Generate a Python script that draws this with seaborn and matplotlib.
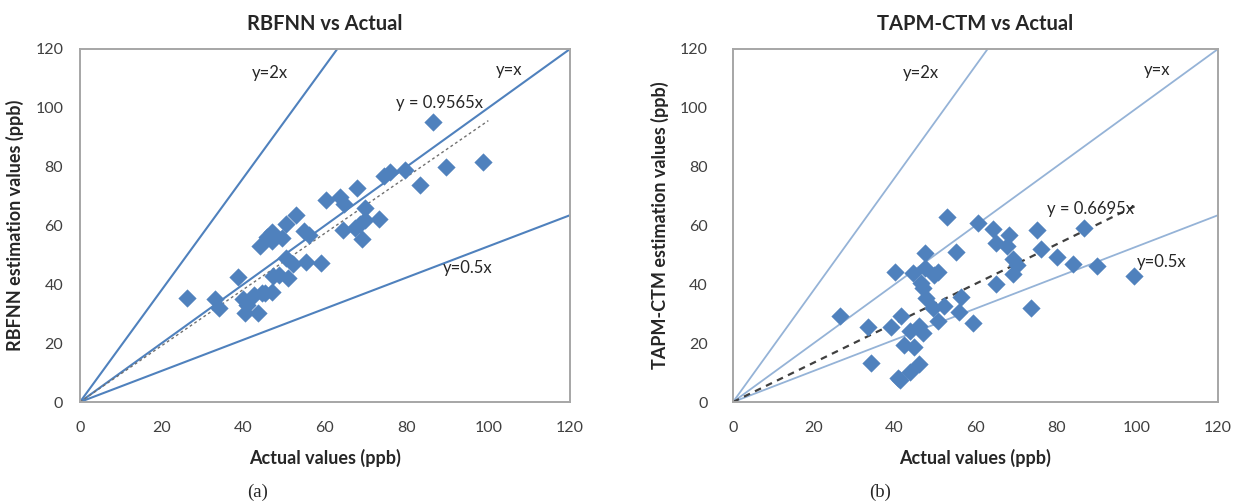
import matplotlib
matplotlib.use("Agg")
import matplotlib.pyplot as plt
import seaborn as sns
import pandas as pd

# RBFNN vs Actual (panel a)
rbf_actual = [86.4, 98.8, 89.6, 79.6, 75.9, 74.5, 83.3, 67.8, 63.7, 60.2, 64.7, 69.8,
              73.3, 69.8, 68.6, 67.3, 64.5, 69.0, 52.9, 50.4, 46.9, 45.7, 49.4, 46.9,
              44.1, 54.9, 56.2, 50.4, 52.1, 55.4, 58.9, 51.0, 48.8, 47.2, 38.8, 26.1,
              33.1, 34.1, 40.0, 42.5, 44.5, 46.9, 40.8, 40.4, 43.7, 45.3]
rbf_est = [95.3, 81.5, 79.8, 78.7, 78.3, 76.9, 73.6, 72.7, 69.8, 68.7, 67.2, 65.9,
           62.2, 61.9, 60.5, 59.1, 58.5, 55.3, 63.4, 60.5, 57.9, 56.2, 55.7, 54.6,
           53.2, 58.3, 56.8, 48.9, 46.9, 47.7, 47.2, 42.1, 43.2, 42.9, 42.6, 35.5,
           34.9, 32.1, 34.9, 36.4, 37.2, 37.5, 33.0, 30.4, 30.2, 37.0]

# TAPM-CTM vs Actual (panel b)
tapm_actual = [53.0, 60.5, 64.3, 68.4, 75.2, 86.9, 65.0, 67.7, 76.2, 55.2, 47.5, 80.1,
               69.2, 70.2, 84.1, 90.0, 99.3, 47.5, 44.5, 40.1, 50.6, 49.8, 69.4, 46.5,
               47.0, 65.0, 47.8, 56.4, 49.6, 52.1, 55.8, 73.8, 26.5, 41.6, 33.5, 39.1,
               45.9, 43.8, 47.1, 50.8, 59.3, 42.4, 44.9, 34.1, 46.1, 43.8, 40.9, 41.3]
tapm_est = [63.0, 61.0, 58.7, 56.8, 58.5, 59.1, 54.2, 53.1, 51.9, 50.9, 50.6, 49.4,
            48.5, 46.6, 46.9, 46.3, 42.9, 45.5, 44.0, 44.3, 44.3, 43.2, 43.5, 40.4,
            38.7, 40.0, 35.3, 35.8, 31.9, 32.7, 30.7, 31.9, 29.3, 29.4, 25.6, 25.6,
            25.9, 24.3, 23.6, 27.7, 26.8, 19.4, 18.8, 13.2, 12.8, 10.3, 8.1, 7.5]

# reference lines as drawn (end points, from origin)
ref_2x = [63, 120]
ref_1x = [120, 120]
ref_half = [120, 63.5]
trend_x = [0, 100]
rbf_slope = 0.9565
tapm_slope = 0.6695

sns.set_theme(style="white")
plt.rcParams["font.family"] = ["Lato", "DejaVu Sans"]

fig = plt.figure(figsize=(12.35, 5.03), dpi=100)
ax1 = fig.add_axes([80 / 1235, 101 / 503, 490 / 1235, 353 / 503])
ax2 = fig.add_axes([733 / 1235, 101 / 503, 485 / 1235, 353 / 503])

marker_color = "#4F81BD"


def draw_panel(ax, xs, ys, slope, line_color, line_w, trend_style, trend_color, trend_w,
               title, ylabel, slope_pos, half_pos, ypad):
    for end in (ref_2x, ref_1x, ref_half):
        ax.plot([0, end[0]], [0, end[1]], color=line_color, lw=line_w, zorder=1)
    ax.plot(trend_x, [slope * v for v in trend_x], linestyle=trend_style,
            color=trend_color, lw=trend_w, zorder=2)
    df = pd.DataFrame({"actual": xs, "est": ys})
    sns.scatterplot(data=df, x="actual", y="est", ax=ax, marker="D", s=80,
                    color=marker_color, edgecolor=marker_color, linewidth=0.3, zorder=3)
    ax.set_xlim(0, 120)
    ax.set_ylim(0, 120)
    ax.set_xticks(range(0, 121, 20))
    ax.set_yticks(range(0, 121, 20))
    ax.tick_params(axis="both", length=0, labelsize=11.5, colors="#404040")
    ax.tick_params(axis="x", pad=14)
    ax.tick_params(axis="y", pad=ypad)
    for sp in ax.spines.values():
        sp.set_color("#A6A6A6")
        sp.set_linewidth(1.4)
    ax.set_title(title, fontsize=14.5, fontweight="bold", pad=14)
    ax.set_xlabel("Actual values (ppb)", fontsize=13, fontweight="bold", labelpad=10)
    ax.set_ylabel(ylabel, fontsize=13, fontweight="bold", labelpad=8)
    ax.text(46.5, 112, "y=2x", fontsize=12, ha="center", va="center")
    ax.text(105, 113, "y=x", fontsize=12, ha="center", va="center")
    ax.text(slope_pos[0], slope_pos[1], f"y = {slope}x", fontsize=12, ha="center", va="center")
    ax.text(half_pos[0], half_pos[1], "y=0.5x", fontsize=12, ha="center", va="center")


draw_panel(ax1, rbf_actual, rbf_est, rbf_slope, "#4F81BD", 1.5, (0, (2, 2)), "#707070", 1.0,
           "RBFNN vs Actual", "RBFNN estimation values (ppb)", (88, 101.5), (95, 45.5), 12)
draw_panel(ax2, tapm_actual, tapm_est, tapm_slope, "#95B3D7", 1.3, (0, (3, 2.5)), "#404040", 1.6,
           "TAPM-CTM vs Actual", "TAPM-CTM estimation values (ppb)", (88.5, 65.5), (106, 47.5), 18)

fig.text(258 / 1235, 1 - 492 / 503, "(a)", fontsize=13.5, family=["Liberation Serif"],
         ha="center", va="center")
fig.text(880 / 1235, 1 - 492 / 503, "(b)", fontsize=13.5, family=["Liberation Serif"],
         ha="center", va="center")

fig.savefig("out.png", dpi=100)
plt.close(fig)
